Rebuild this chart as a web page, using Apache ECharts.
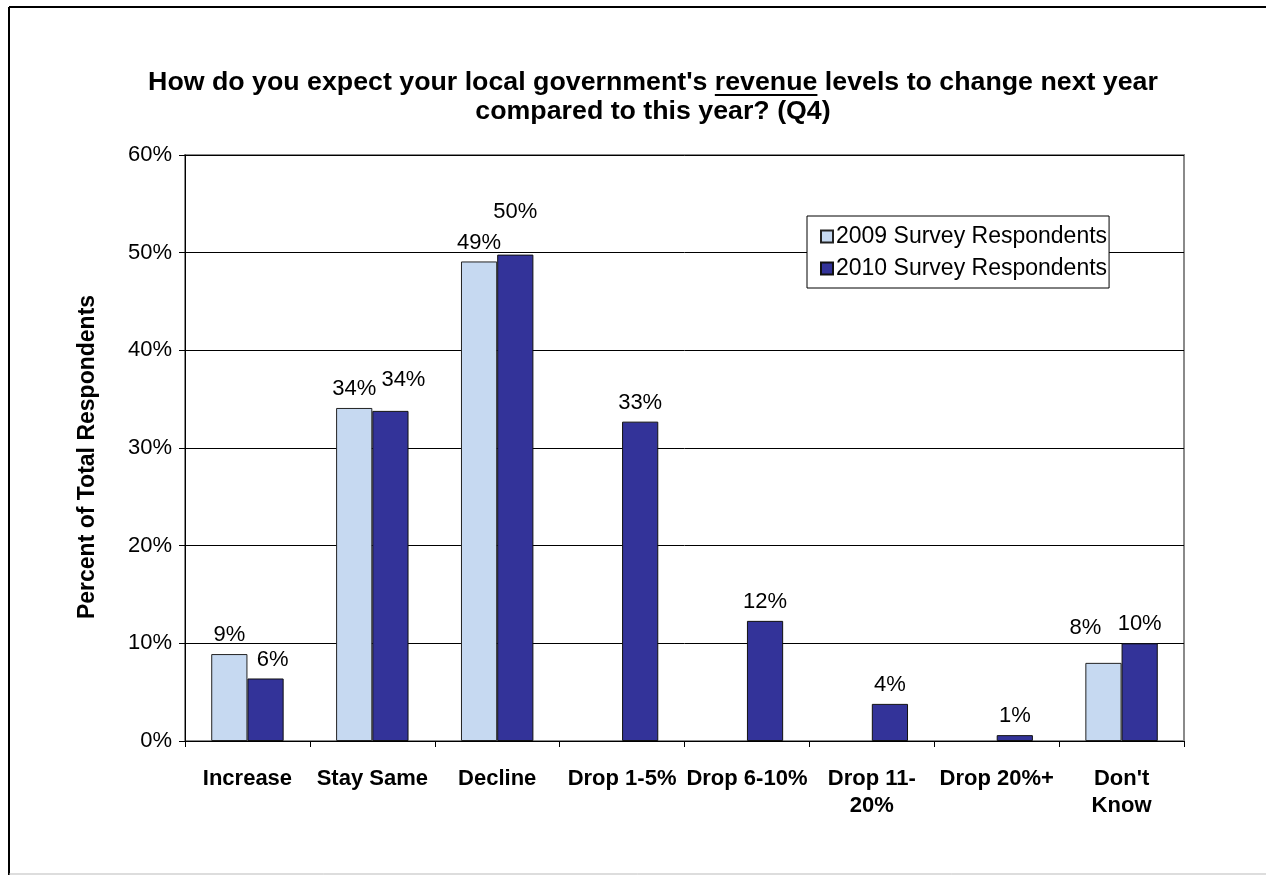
<!DOCTYPE html>
<html>
<head>
<meta charset="utf-8">
<script src="https://cdn.jsdelivr.net/npm/echarts@6/dist/echarts.min.js"></script>
<style>
  html, body { margin: 0; padding: 0; background: #fff; }
  #chart { width: 1266px; height: 875px; }
</style>
</head>
<body>
<div id="chart"></div>
<script>
// Survey answers (percent of total respondents)
const categories = ['Increase', 'Stay Same', 'Decline', 'Drop 1-5%', 'Drop 6-10%', 'Drop 11-\n20%', 'Drop 20%+', "Don't\nKnow"];
const seriesNames = ['2009 Survey Respondents', '2010 Survey Respondents'];
const values2009 = [8.9, 34.1, 49.1, null, null, null, null, 8.0];
const values2010 = [6.4, 33.8, 49.8, 32.7, 12.3, 3.8, 0.6, 10.0];
const yTicks = [0, 10, 20, 30, 40, 50, 60];

const FONT = '"Liberation Sans", Arial, sans-serif';
const titleLine1Pre = "How do you expect your local government's ";
const titleWord = 'revenue';
const titleLine1Post = ' levels to change next year';
const titleLine2 = 'compared to this year? (Q4)';
const titleCenterX = 653;
const titleTop = 69;
const titleFontSize = 25;
const titleLineHeight = 29;
const titleStretch = 1.07;

// Small label shifts so neighbouring value labels do not collide
const labelNudge = {
  '1-0': [7, 0],
  '1-1': [13, -12],
  '1-2': [0, -24],
  '0-7': [-18, -16]
};

// Position of the underline beneath the emphasised word in the title
const measure = document.createElement('canvas').getContext('2d');
measure.font = 'bold ' + titleFontSize + 'px ' + FONT;
const line1 = titleLine1Pre + titleWord + titleLine1Post;
const line1W = measure.measureText(line1).width * titleStretch;
const preW = measure.measureText(titleLine1Pre).width * titleStretch;
const wordW = measure.measureText(titleWord).width * titleStretch;
const underlineX = titleCenterX - line1W / 2 + preW;
const underlineY = titleTop + 26;

function buildData(vals, si) {
  return vals.map((v, i) => {
    const n = labelNudge[si + '-' + i];
    if (v == null) return null;
    return n ? { value: v, label: { offset: n } } : v;
  });
}

const chart = echarts.init(document.getElementById('chart'), null, { renderer: 'canvas' });

const labelCfg = {
  show: true,
  position: 'top',
  distance: 8,
  color: '#000',
  fontFamily: FONT,
  fontSize: 22,
  formatter: p => Math.round(p.value) + '%'
};

chart.setOption({
  backgroundColor: '#fff',
  animation: false,
  grid: {
    left: 185, right: 82, top: 155, bottom: 134,
    show: true, borderColor: '#8a8a8a', borderWidth: 2, backgroundColor: 'transparent'
  },
  legend: {
    orient: 'vertical',
    left: 807, top: 216,
    padding: [9, 2, 8, 13],
    itemGap: 9,
    itemWidth: 12, itemHeight: 12,
    icon: 'rect',
    borderColor: '#000', borderWidth: 1,
    backgroundColor: '#fff',
    textStyle: { fontFamily: FONT, fontSize: 23, color: '#000', padding: [0, 0, 0, -2] },
    data: seriesNames
  },
  xAxis: {
    type: 'category',
    data: categories,
    axisLine: { lineStyle: { color: '#000', width: 1 } },
    axisTick: { show: true, length: 6, lineStyle: { color: '#000' } },
    axisLabel: {
      interval: 0, margin: 24, color: '#000',
      fontFamily: FONT, fontSize: 22, fontWeight: 'bold', lineHeight: 27
    },
    splitLine: { show: false }
  },
  yAxis: {
    type: 'value',
    min: 0, max: yTicks[yTicks.length - 1], interval: 10,
    name: 'Percent of Total Respondents',
    nameLocation: 'middle',
    nameGap: 86,
    nameTextStyle: { fontFamily: FONT, fontSize: 23, fontWeight: 'bold', color: '#000', padding: [0, 18, 0, 0] },
    axisLine: { show: true, lineStyle: { color: '#000', width: 1 } },
    axisTick: { show: true, length: 6, lineStyle: { color: '#000' } },
    axisLabel: {
      margin: 13, color: '#000', fontFamily: FONT, fontSize: 22,
      formatter: v => yTicks.includes(v) ? v + '%' : ''
    },
    splitLine: { show: true, lineStyle: { color: '#000', width: 1 } }
  },
  series: [
    {
      name: seriesNames[0],
      type: 'bar',
      data: buildData(values2009, 0),
      barGap: '0%',
      barCategoryGap: '42%',
      itemStyle: { color: '#C6D9F1', borderColor: '#222', borderWidth: 1 },
      label: labelCfg
    },
    {
      name: seriesNames[1],
      type: 'bar',
      data: buildData(values2010, 1),
      barGap: '0%',
      barCategoryGap: '42%',
      itemStyle: { color: '#333399', borderColor: '#111', borderWidth: 1 },
      label: labelCfg
    }
  ],
  graphic: [
    { type: 'line', shape: { x1: 9, y1: 7, x2: 9, y2: 875 }, style: { stroke: '#000', lineWidth: 2 } },
    { type: 'line', shape: { x1: 9, y1: 7, x2: 1266, y2: 7 }, style: { stroke: '#000', lineWidth: 2 } },
    { type: 'line', shape: { x1: 9, y1: 874, x2: 1266, y2: 874 }, style: { stroke: '#bbb', lineWidth: 1 } },
    {
      type: 'text', x: titleCenterX, y: titleTop, scaleX: titleStretch,
      style: {
        text: line1 + '\n' + titleLine2,
        font: 'bold ' + titleFontSize + 'px ' + FONT,
        lineHeight: titleLineHeight,
        fill: '#000', textAlign: 'center', textVerticalAlign: 'top'
      }
    },
    {
      type: 'line',
      shape: { x1: underlineX, y1: underlineY, x2: underlineX + wordW, y2: underlineY },
      style: { stroke: '#000', lineWidth: 2 }
    }
  ]
});
</script>
</body>
</html>
